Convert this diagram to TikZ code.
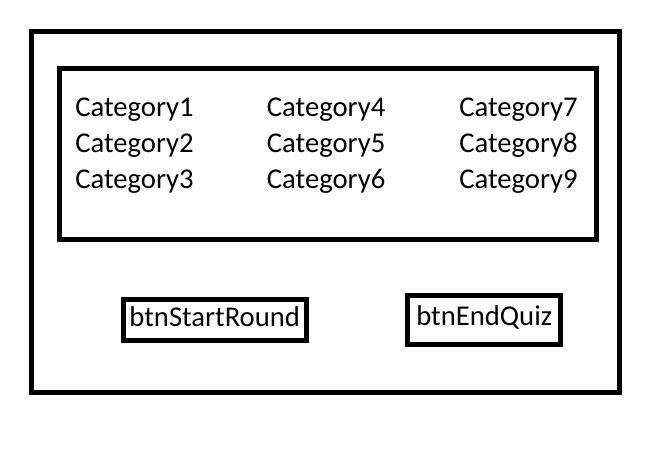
\documentclass[tikz,border=0pt]{standalone}
\usepackage{fontspec}
\setmainfont{Carlito}

\tikzstyle{frame}=[draw,line width=3.75pt,inner sep=0pt]
\tikzstyle{item}=[anchor=base west,inner sep=0pt]
\tikzstyle{button}=[frame,text height=14.5pt,text depth=4.9pt]

\begin{document}
\begin{tikzpicture}[x=0.75pt,y=-0.75pt,font=\fontsize{21.5}{25}\selectfont]
			\useasboundingbox (0,0) rectangle (669,451);
			\node[frame,minimum width=441pt,minimum height=270.4pt] (screen) at (325,211.75) {};
			\node[frame,minimum width=402.75pt,minimum height=127.9pt] (panel) at (328,153.75) {};
			% the categories, three columns
			\node[item] (cat1) at (75,116.6) {Category1};
			\node[item] (cat2) at (75,152.6) {Category2};
			\node[item] (cat3) at (75,188.4) {Category3};
			\node[item] (cat4) at (266.7,116.6) {Category4};
			\node[item] (cat5) at (266.7,152.6) {Category5};
			\node[item] (cat6) at (266.7,188.4) {Category6};
			\node[item] (cat7) at (459,116.6) {Category7};
			\node[item] (cat8) at (459,152.6) {Category8};
			\node[item] (cat9) at (459,188.4) {Category9};
			% the buttons
			\node[button,minimum width=137.6pt,minimum height=31.1pt] (start) at (214.75,319.75) {btnStartRound};
			\node[button,minimum width=115.1pt,minimum height=36.75pt] (endquiz) at (484.25,319.5) {btnEndQuiz};
		\end{tikzpicture}
\end{document}
